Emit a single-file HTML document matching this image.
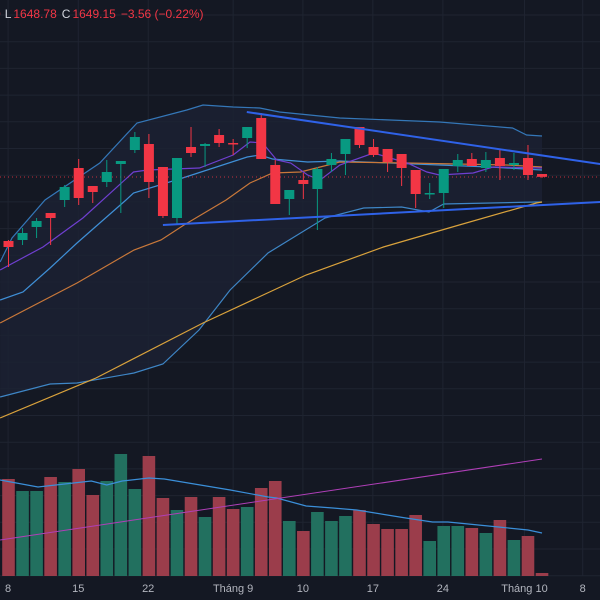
<!DOCTYPE html>
<html><head><meta charset="utf-8"><style>
html,body{margin:0;padding:0;background:#141823;}
svg{display:block;font-family:"Liberation Sans",sans-serif;}
</style></head><body>
<svg id="chart" width="600" height="600" viewBox="0 0 600 600" xmlns="http://www.w3.org/2000/svg">
<rect x="0" y="0" width="600" height="600" fill="#141823"/>
<g id="grid"></g>
<path id="bbfill" fill="#1b2233" fill-opacity="0.8"/>
<g id="vol"></g>
<g id="lines"></g>
<line x1="0" y1="177" x2="600" y2="177" stroke="#f23645" stroke-width="1" stroke-dasharray="1,3" opacity="0.8"/>
<g id="candles"></g>
<g id="trend"></g>
<g id="xaxis"></g>
<text x="-6" y="18" font-size="12"><tspan fill="#f23645">0</tspan><tspan fill="#d1d4dc" dx="4">L</tspan><tspan fill="#f23645" dx="2">1648.78</tspan><tspan fill="#d1d4dc" dx="5">C</tspan><tspan fill="#f23645" dx="2">1649.15</tspan><tspan fill="#f23645" dx="5">−3.56 (−0.22%)</tspan></text>
</svg>
<script>
// ---- data ----
const opens  = [1585,1586,1599,1613,1626,1658,1640,1644,1662,1676,1682,1659,1608,1679,1680,1691,1683,1688,1708,1661,1627,1646,1637,1661,1672,1699,1679,1677,1672,1656,1632,1633,1660,1667,1658,1668,1661,1668,1652];
const highs  = [1586,1598,1608,1613,1641,1667,1640,1666,1665,1694,1692,1659,1668,1699,1683,1697,1687,1699,1713,1666,1636,1653,1659,1673,1687,1699,1687,1677,1672,1656,1643,1657,1672,1673,1674,1676,1673,1681,1652];
const lows   = [1559,1581,1588,1581,1619,1621,1623,1639,1613,1673,1628,1608,1601,1669,1659,1679,1671,1678,1667,1622,1611,1627,1596,1654,1651,1678,1669,1654,1640,1618,1627,1618,1654,1660,1654,1646,1656,1646,1648];
const closes = [1579,1593,1605,1608,1639,1628,1634,1654,1665,1689,1644,1610,1668,1673,1682,1683,1682,1699,1667,1622,1636,1642,1657,1667,1687,1681,1671,1664,1658,1632,1633,1657,1666,1660,1666,1660,1663,1651,1649.15];
const volumes = [97,85,85,99,94,107,81,95,122,87,120,78,66,79,59,79,67,69,88,95,55,45,64,55,60,66,52,47,47,61,35,50,50,48,43,56,36,40,3];
const xTickIdx = [-0.03,4.97,9.95,16,20.97,25.95,30.94,36.75,40.9];
const xTickLabels = ["8","15","22","Tháng 9","10","17","24","Tháng 10","8"];
// indicator knots: [candle index, value]
const bbUpper = [[-0.6,1564],[0.25,1588],[2.6,1626],[6.5,1663],[9.15,1703],[12.7,1716],[13.85,1721],[16,1719],[17.9,1718],[19.3,1714],[23.6,1708],[30.7,1704],[35.9,1698],[36.9,1691],[38,1690]];
const bbMiddle = [[-0.6,1526],[1.03,1534],[2.96,1558],[4.88,1583],[8.37,1626],[8.9,1633],[12.4,1648],[17,1669],[17.9,1671],[18.8,1667],[21.3,1664],[23.6,1665],[27.2,1663],[30.7,1661],[34.3,1659],[38,1656]];
const bbLower = [[-0.6,1429],[2.96,1442],[4.88,1443],[8.94,1453],[11,1462],[13.57,1496],[15.78,1536],[18.48,1573],[22.54,1608],[25.3,1618],[28,1619],[29.95,1614],[31,1622],[37.6,1624],[38,1624]];
const emaFast = [[-0.6,1556],[2.46,1579],[5.3,1608],[8.9,1654],[9.9,1656],[13.6,1658],[16,1671],[17.2,1684],[18.1,1683],[19.1,1666],[20.1,1663],[21.3,1651],[22.2,1646],[23.6,1661],[26,1673],[28.4,1663],[29.8,1654],[30.7,1651],[33.1,1653],[34.5,1659],[38,1658]];
const maMid = [[-0.6,1503],[4.88,1543],[8.94,1576],[10.86,1586],[12.5,1601],[15.5,1626],[17.2,1643],[18.8,1653],[20.8,1654],[23.6,1664],[28.4,1663],[35.5,1661],[38,1659]];
const maSlow = [[-0.6,1408],[6.23,1448],[13.85,1503],[21.2,1551],[26.7,1579],[32.1,1601],[37.6,1623],[38,1624]];
const volMA = [[-0.6,96],[2.1,89],[5.9,95],[7,91],[8.1,95],[10,98],[11.1,97],[15.8,86],[18.5,79],[19.1,78],[21.2,70],[23.1,68],[24.8,66],[28.3,58],[30.2,54],[31.3,54],[34.9,49],[37,46],[38,43]];
const volTrend = [[-0.6,36],[38,117]];
const trendTop = [[16.97,1714],[42.14,1662]];
const trendBottom = [[11,1601],[42.14,1624]];

// ---- scales ----
const NS = "http://www.w3.org/2000/svg";
const xS = i => 8.5 + 14.04*i;
const yS = p => 1826 - p;
const vS = v => 576 - v;
function mk(tag, parent, attrs){const e=document.createElementNS(NS,tag);for(const k in attrs)e.setAttribute(k,attrs[k]);parent.appendChild(e);return e;}
function pathOf(knots, ys){return knots.map((k,j)=>(j?"L":"M")+xS(k[0]).toFixed(1)+","+ys(k[1]).toFixed(1)).join(" ");}

// grid
const grid=document.getElementById('grid');
for(let y=15;y<576;y+=26.7){const l=mk('line',grid,{x1:0,x2:600,y1:y,y2:y,stroke:'#1f2431','stroke-width':1});

}
xTickIdx.forEach(t=>{const l=mk('line',grid,{x1:xS(t),x2:xS(t),y1:0,y2:576,stroke:'#1f2431','stroke-width':1});

});

// bollinger fill
document.getElementById('bbfill').setAttribute('d', pathOf(bbUpper,yS)+" "+pathOf(bbLower.slice().reverse(),yS).replace("M","L")+" Z");

// volume
const vol=document.getElementById('vol');
volumes.forEach((v,i)=>{const up=closes[i]>=opens[i];
const r=mk('rect',vol,{x:xS(i)-6.3,y:vS(v),width:12.6,height:v,fill:up?'#22705f':'#9b3d4b'});

});
const vm=mk('path',vol,{d:pathOf(volMA,vS),fill:'none',stroke:'#3b8fd9','stroke-width':1.2});


const vt=mk('path',vol,{d:pathOf(volTrend,vS),fill:'none',stroke:'#b03fb8','stroke-width':1});



// indicator lines
const lines=document.getElementById('lines');
[[bbUpper,'#3477b8','bollinger-upper'],[bbLower,'#3e86c6','bollinger-lower'],[bbMiddle,'#3f8fd6','bollinger-middle'],[maSlow,'#d9a23c','ma-slow'],[maMid,'#c9783a','ma-mid'],[emaFast,'#6f3fd0','ema-fast']].forEach(([k,c,n])=>{
const p=mk('path',lines,{d:pathOf(k,yS),fill:'none',stroke:c,'stroke-width':1.2});

});

// candles
const cg=document.getElementById('candles');
opens.forEach((o,i)=>{const c=closes[i],up=c>=o,col=up?'#089981':'#f23645',x=xS(i);
const g=mk('g',cg,{});


mk('line',g,{x1:x,x2:x,y1:yS(highs[i]),y2:yS(lows[i]),stroke:col,'stroke-width':1});
const top=yS(Math.max(o,c)),h=Math.max(1.5,Math.abs(o-c));
mk('rect',g,{x:x-5,y:top,width:10,height:h,fill:col});});

// trendlines
const tg=document.getElementById('trend');
[[trendTop,'trendline-resistance'],[trendBottom,'trendline-support']].forEach(([k,n])=>{
const p=mk('path',tg,{d:pathOf(k,yS),fill:'none',stroke:'#2f62e8','stroke-width':2});

});

// x axis
const xa=document.getElementById('xaxis');
xTickLabels.forEach((t,j)=>{const e=mk('text',xa,{x:xS(xTickIdx[j]),y:592,'text-anchor':'middle','font-size':11,fill:'#b2b5be'});
e.textContent=t;

});
</script>
</body></html>
